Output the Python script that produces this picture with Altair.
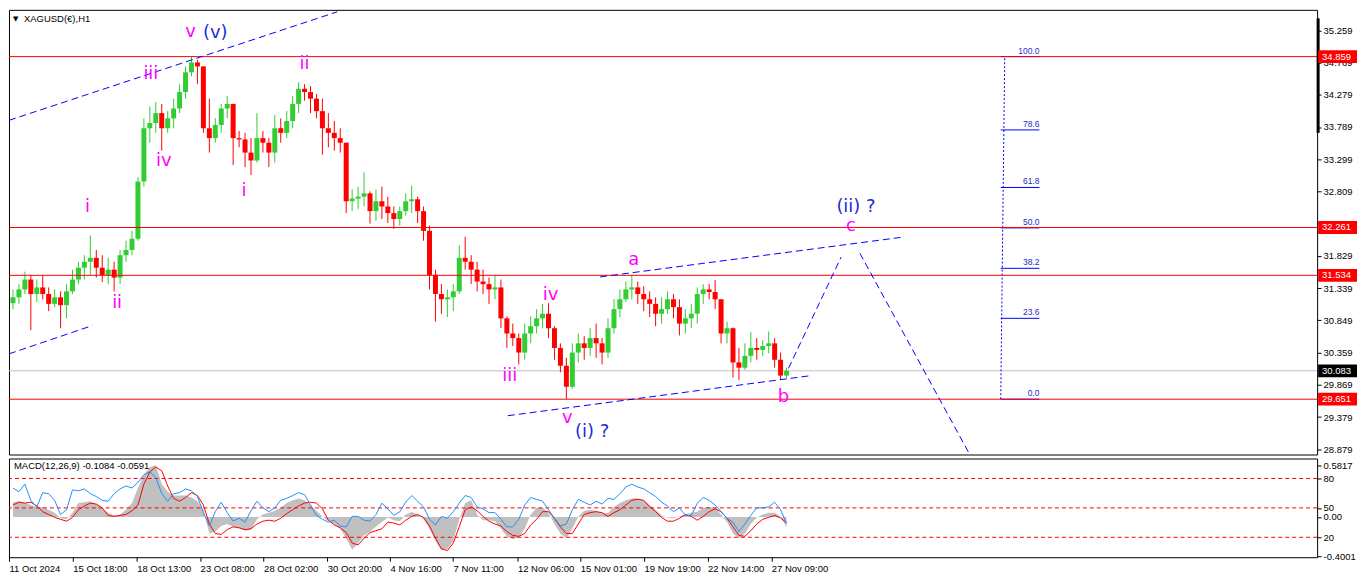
import json
import altair as alt
import pandas as pd

# ---------------- values ----------------
# Candles (each drawn candle groups several H1 bars), XAGUSD price
OPEN0 = 31.11
HIGH = [
    31.32, 31.40, 31.59, 31.54, 31.47, 31.53, 31.35, 31.32, 31.29, 31.40,
    31.62, 31.74, 31.84, 32.14, 31.92, 31.84, 31.80, 31.74, 31.92, 32.06,
    32.21, 33.03, 33.92, 34.10, 34.17, 34.14, 34.03, 34.22, 34.44, 34.71,
    34.859, 34.81, 34.71, 34.22, 33.92, 34.14, 34.26, 34.14, 33.73, 33.70,
    33.62, 34.00, 33.73, 33.62, 33.97, 33.92, 34.03, 34.26, 34.47, 34.44,
    34.41, 34.29, 34.22, 34.00, 33.88, 33.77, 33.55, 32.84, 32.88, 33.10,
    32.81, 32.84, 32.88, 32.73, 32.58, 32.58, 32.78, 32.90, 32.73, 32.58,
    32.29, 31.62, 31.40, 31.32, 31.40, 31.99, 32.12, 31.84, 31.74, 31.62,
    31.50, 31.53, 31.47, 30.91, 30.80, 30.65, 30.80, 30.91, 31.02, 31.10,
    31.11, 30.76, 30.50, 30.28, 30.50, 30.65, 30.61, 30.73, 30.80, 30.58,
    30.88, 31.17, 31.32, 31.44, 31.53, 31.44, 31.37, 31.29, 31.20, 31.20,
    31.29, 31.25, 31.17, 31.02, 31.10, 31.35, 31.40, 31.40, 31.46, 31.17,
    30.83, 30.74, 30.43, 30.50, 30.67, 30.58, 30.55, 30.68, 30.58, 30.36,
    30.13,
]
LOW = [
    31.02, 31.10, 31.25, 30.70, 31.13, 31.17, 30.99, 31.05, 30.73, 30.88,
    31.25, 31.40, 31.47, 31.54, 31.50, 31.43, 31.40, 31.29, 31.40, 31.74,
    31.84, 32.06, 32.88, 33.55, 33.70, 33.43, 33.70, 33.77, 34.00, 34.22,
    34.56, 34.44, 33.70, 33.40, 33.55, 33.70, 33.92, 33.21, 33.48, 33.18,
    33.06, 33.25, 33.40, 33.18, 33.25, 33.55, 33.62, 33.77, 34.00, 34.19,
    34.00, 33.92, 33.37, 33.48, 33.43, 33.40, 32.48, 32.51, 32.54, 32.58,
    32.32, 32.36, 32.39, 32.33, 32.24, 32.29, 32.44, 32.48, 32.33, 32.06,
    31.32, 30.83, 30.95, 30.90, 30.99, 31.25, 31.62, 31.40, 31.29, 31.25,
    31.10, 31.17, 30.73, 30.43, 30.46, 30.18, 30.25, 30.50, 30.65, 30.73,
    30.58, 30.25, 30.06, 29.651, 29.81, 30.21, 30.25, 30.31, 30.28, 30.18,
    30.28, 30.65, 30.90, 31.13, 31.17, 31.10, 30.99, 30.90, 30.76, 30.80,
    30.95, 30.88, 30.62, 30.65, 30.73, 30.80, 31.10, 31.17, 31.02, 30.50,
    30.50, 29.98, 29.94, 30.10, 30.21, 30.25, 30.31, 30.35, 30.13, 29.95,
    29.97,
]
CLOSE = [
    31.20, 31.32, 31.47, 31.25, 31.35, 31.25, 31.10, 31.20, 31.08, 31.29,
    31.47, 31.65, 31.74, 31.80, 31.65, 31.54, 31.62, 31.50, 31.84, 31.92,
    32.09, 32.96, 33.77, 33.85, 34.00, 33.77, 33.92, 34.07, 34.32, 34.62,
    34.77, 34.71, 33.77, 33.62, 33.82, 34.07, 34.14, 33.62, 33.60, 33.40,
    33.28, 33.62, 33.55, 33.40, 33.77, 33.70, 33.88, 34.14, 34.37, 34.32,
    34.22, 34.03, 33.77, 33.70, 33.62, 33.55, 32.66, 32.70, 32.73, 32.78,
    32.51, 32.66, 32.58, 32.48, 32.39, 32.51, 32.66, 32.69, 32.51, 32.21,
    31.54, 31.25, 31.17, 31.20, 31.29, 31.80, 31.74, 31.62, 31.44, 31.40,
    31.32, 31.35, 30.88, 30.65, 30.58, 30.36, 30.65, 30.76, 30.88, 30.95,
    30.73, 30.43, 30.16, 29.84, 30.36, 30.50, 30.43, 30.58, 30.50, 30.36,
    30.73, 31.02, 31.17, 31.32, 31.35, 31.25, 31.17, 31.10, 30.95, 31.02,
    31.17, 31.05, 30.80, 30.88, 30.95, 31.25, 31.32, 31.28, 31.17, 30.65,
    30.73, 30.21, 30.13, 30.31, 30.43, 30.40, 30.46, 30.50, 30.25, 30.01,
    30.083,
]

# Lower window: MACD histogram + signal (MACD units) and a 0-100 oscillator
HIST = [
    0.147, 0.157, 0.138, 0.119, 0.100, 0.100, 0.072, 0.043, -0.013, -0.023,
    0.043, 0.138, 0.147, 0.157, 0.128, 0.081, 0.043, 0.015, 0.025, 0.072,
    0.138, 0.289, 0.421, 0.497, 0.515, 0.327, 0.251, 0.213, 0.213, 0.213,
    0.194, 0.157, 0.072, -0.164, -0.145, -0.089, -0.070, -0.098, -0.108, -0.136,
    -0.126, -0.023, 0.025, 0.043, 0.062, 0.091, 0.138, 0.166, 0.185, 0.166,
    0.119, 0.062, 0.006, -0.042, -0.070, -0.117, -0.211, -0.325, -0.259, -0.183,
    -0.145, -0.098, -0.051, -0.004, -0.032, -0.042, 0.025, 0.053, 0.025, -0.023,
    -0.117, -0.240, -0.334, -0.315, -0.240, -0.023, 0.138, 0.166, 0.025, -0.032,
    -0.032, -0.042, -0.117, -0.193, -0.221, -0.202, -0.117, 0.025, 0.091, 0.091,
    0.043, -0.070, -0.164, -0.211, -0.117, 0.006, 0.062, 0.072, 0.062, 0.034,
    0.043, 0.100, 0.138, 0.166, 0.185, 0.185, 0.166, 0.119, 0.072, 0.015,
    -0.004, -0.013, 0.006, 0.025, 0.043, 0.053, 0.091, 0.100, 0.091, 0.025,
    -0.051, -0.164, -0.211, -0.164, -0.070, -0.004, 0.025, 0.043, 0.043, 0.006,
    -0.108,
]
SIGNAL = [
    0.119, 0.147, 0.138, 0.147, 0.110, 0.053, 0.025, -0.004, -0.023, -0.042,
    -0.004, 0.072, 0.110, 0.138, 0.128, 0.091, 0.015, 0.006, 0.015, 0.025,
    0.062, 0.119, 0.327, 0.449, 0.497, 0.459, 0.308, 0.185, 0.157, 0.194,
    0.242, 0.213, 0.119, -0.070, -0.164, -0.174, -0.126, -0.098, -0.108, -0.126,
    -0.117, -0.070, -0.042, -0.032, -0.042, -0.013, 0.034, 0.072, 0.110, 0.138,
    0.147, 0.138, 0.081, -0.032, -0.079, -0.108, -0.155, -0.259, -0.278, -0.211,
    -0.155, -0.136, -0.117, -0.051, -0.060, -0.079, -0.032, 0.006, 0.025, -0.004,
    -0.089, -0.211, -0.315, -0.334, -0.259, -0.098, 0.072, 0.100, 0.062, 0.006,
    -0.042, -0.070, -0.089, -0.145, -0.183, -0.193, -0.164, -0.079, -0.023, 0.053,
    0.053, -0.013, -0.098, -0.164, -0.164, -0.070, 0.025, 0.043, 0.053, 0.043,
    0.006, 0.043, 0.072, 0.119, 0.166, 0.176, 0.166, 0.100, 0.053, -0.004,
    -0.042, -0.042, -0.013, 0.025, 0.006, -0.032, 0.006, 0.053, 0.081, 0.053,
    -0.013, -0.098, -0.183, -0.193, -0.136, -0.070, -0.023, -0.004, 0.015, -0.010,
    -0.059,
]
OSC = [
    70.3, 66.5, 74.2, 57.7, 51.0, 65.5, 64.5, 57.7, 43.2, 48.1,
    68.4, 67.4, 69.4, 64.5, 61.6, 57.7, 56.8, 64.5, 69.4, 72.3,
    70.3, 76.1, 83.9, 86.8, 81.0, 64.5, 56.8, 64.5, 65.5, 69.4,
    67.4, 61.6, 45.2, 31.6, 46.1, 55.8, 45.2, 36.5, 39.4, 35.5,
    47.1, 56.8, 50.0, 46.1, 50.0, 57.7, 59.7, 62.6, 65.5, 63.5,
    52.9, 42.3, 38.4, 35.5, 37.4, 31.6, 30.6, 41.3, 41.3, 37.4,
    36.5, 43.2, 54.8, 49.0, 42.3, 46.1, 55.8, 62.6, 56.8, 51.0,
    38.4, 32.6, 41.3, 39.4, 46.1, 54.8, 62.6, 60.6, 51.0, 49.0,
    45.2, 45.2, 38.4, 30.6, 30.6, 38.4, 52.9, 60.6, 58.7, 56.8,
    48.1, 39.4, 31.6, 33.6, 48.1, 58.7, 55.8, 52.9, 56.8, 53.9,
    59.7, 58.7, 64.5, 71.3, 74.2, 71.3, 69.4, 65.5, 61.6, 55.8,
    51.9, 46.1, 50.0, 42.3, 42.3, 54.8, 60.6, 57.7, 52.9, 46.1,
    39.4, 35.5, 25.8, 33.6, 42.3, 50.0, 50.0, 51.0, 55.8, 48.1,
    34.5,
]
OSC_LEVELS = [80, 50, 20]

PRICE_TICKS = [35.259, 34.769, 34.279, 33.789, 33.299, 32.809, 32.319,
               31.829, 31.339, 30.849, 30.359, 29.869, 29.379, 28.879]
RED_LEVELS = [34.859, 32.261, 31.534, 29.651]
LAST_PRICE = 30.083
SCALE_BAR = [35.44, 33.70]

DATE_LABELS = ['11 Oct 2024', '15 Oct 18:00', '18 Oct 13:00', '23 Oct 08:00',
               '28 Oct 02:00', '30 Oct 20:00', '4 Nov 16:00', '7 Nov 11:00',
               '12 Nov 06:00', '15 Nov 01:00', '19 Nov 19:00', '22 Nov 14:00',
               '27 Nov 09:00']
DATE_POS = [-0.67, 10.05, 20.78, 31.45, 42.12, 52.83, 63.38, 73.95,
            84.78, 95.33, 106.05, 116.72, 127.45]

# dashed blue trend / projection lines (segment id, bar position, price)
TREND_SEG = [0, 0, 1, 1, 2, 2, 3, 3, 4, 4, 5, 5]
TREND_I = [-0.67, 54.5, -0.67, 13.33, 98.67, 149.17, 83.17, 134.17,
           130.33, 139.17, 142.33, 160.67]
TREND_P = [33.89, 35.54, 30.34, 30.77, 31.51, 32.11, 29.40, 30.01,
           30.12, 31.81, 31.87, 28.83]

# Fibonacci retracement
FIB_LOW, FIB_HIGH = 29.651, 34.859
FIB_LEVELS = [0.0, 23.6, 38.2, 50.0, 61.8, 78.6, 100.0]
FIB_X = [166.0, 172.5]
FIB_STEM_I = [166.67, 166.0]

# Elliott wave labels
LABEL_TEXT = ['v', '(v)', 'iii', 'iv', 'i', 'ii', 'i', 'ii', 'iv', 'iii',
              'v', '(i) ?', 'a', 'b', 'c', '(ii) ?']
LABEL_I = [29.83, 34.0, 23.17, 25.33, 12.5, 17.5, 38.83, 49.0, 90.33, 83.5,
           93.17, 97.33, 104.33, 129.5, 140.83, 141.67]
LABEL_P = [35.24, 35.21, 34.60, 33.27, 32.58, 31.11, 32.82, 34.74, 31.23,
           30.00, 29.36, 29.15, 31.77, 29.69, 32.29, 32.57]
LABEL_DEG = ['minor', 'major', 'minor', 'minor', 'minor', 'minor', 'minor',
             'minor', 'minor', 'minor', 'minor', 'major', 'minor', 'minor',
             'minor', 'major']

# ---------------- chart ----------------
W, HP, HM = 1312, 446, 99
FONT = 'Liberation Sans'
xs = alt.Scale(domain=[-0.67, 219.17], nice=False, zero=False)
ys = alt.Scale(domain=[28.81, 35.57], nice=False, zero=False)
ms = alt.Scale(domain=[-0.4001, 0.5817], nice=False, zero=False)

price_axis = alt.Axis(orient='right', values=PRICE_TICKS, format='.3f', title=None,
                      grid=False, tickSize=4, tickColor='black', domain=False,
                      labelFont=FONT, labelFontSize=9.5, labelColor='black',
                      labelPadding=2, labelOverlap=False)


def X(f):
    return alt.X(f, type='quantitative', scale=xs, axis=None)


def Y(f):
    return alt.Y(f, type='quantitative', scale=ys, axis=price_axis)


opens = [OPEN0] + CLOSE[:-1]
cdf = pd.DataFrame({'i': list(range(len(CLOSE))), 'o': opens, 'h': HIGH, 'l': LOW, 'c': CLOSE})
ccol = alt.condition('datum.c >= datum.o', alt.value('#32CD32'), alt.value('#FF0000'))
wicks = alt.Chart(cdf).mark_rule(strokeWidth=1).encode(x=X('i'), y=Y('l'), y2='h:Q', color=ccol)
bodies = alt.Chart(cdf).mark_rule(strokeWidth=5).encode(x=X('i'), y=Y('o'), y2='c:Q', color=ccol)

grey = alt.Chart(pd.DataFrame({'p': [LAST_PRICE]})).mark_rule(color='#C0C0C0').encode(y=Y('p'))
red = alt.Chart(pd.DataFrame({'p': RED_LEVELS})).mark_rule(color='#FF0000').encode(y=Y('p'))

tdf = pd.DataFrame({'seg': TREND_SEG, 'i': TREND_I, 'p': TREND_P})
trend = alt.Chart(tdf).mark_line(color='#0000FF', strokeWidth=1, strokeDash=[7, 4], clip=True).encode(
    x=X('i'), y=Y('p'), detail='seg:N')

fib_base = alt.Chart(pd.DataFrame({'lvl': FIB_LEVELS})).transform_calculate(
    p=f'{FIB_LOW} + datum.lvl / 100 * ({FIB_HIGH} - {FIB_LOW})',
    x0=f'{FIB_X[0]}', x1=f'{FIB_X[1]}')
fib_seg = fib_base.mark_rule(color='#0000FF').encode(x=X('x0'), x2='x1:Q', y=Y('p'))
fib_txt = fib_base.mark_text(align='right', baseline='bottom', dy=-1, font=FONT, fontSize=8.5,
                             color='#2a2ac8').encode(x=X('x1'), y=Y('p'),
                                                     text=alt.Text('lvl:Q', format='.1f'))
fib_stem = alt.Chart(pd.DataFrame({'i': FIB_STEM_I, 'p': [FIB_HIGH, FIB_LOW]})).mark_line(
    color='#0000FF', strokeWidth=1, strokeDash=[2, 2]).encode(x=X('i'), y=Y('p'))

wdf = pd.DataFrame({'t': LABEL_TEXT, 'i': LABEL_I, 'p': LABEL_P, 'deg': LABEL_DEG})
waves = alt.Chart(wdf).mark_text(font='DejaVu Sans', fontSize=18).encode(
    x=X('i'), y=Y('p'), text='t:N',
    color=alt.condition("datum.deg == 'minor'", alt.value('#FF00FF'), alt.value('#1f2bd8')))

bdf = pd.DataFrame({'p': RED_LEVELS + [LAST_PRICE], 'kind': ['level'] * len(RED_LEVELS) + ['last']})
boxes = alt.Chart(bdf).transform_calculate(lo='datum.p - 0.097', hi='datum.p + 0.097').mark_rect().encode(
    x=alt.value(W + 1), x2=alt.value(W + 40), y=Y('lo'), y2='hi:Q',
    color=alt.condition("datum.kind == 'last'", alt.value('#000000'), alt.value('#FF0000')))
box_txt = alt.Chart(bdf).mark_text(align='left', font=FONT, fontSize=9.5, color='white').encode(
    x=alt.value(W + 5), y=Y('p'), text=alt.Text('p:Q', format='.3f'))
scale_bar = alt.Chart(pd.DataFrame({'p0': [SCALE_BAR[0]], 'p1': [SCALE_BAR[1]]})).mark_rule(
    color='black', strokeWidth=3).encode(x=alt.value(W + 1), y=Y('p0'), y2='p1:Q')

title_df = pd.DataFrame({'t': ['XAGUSD(€),H1'], 'm': ['▼']})
title_tri = alt.Chart(title_df).mark_text(align='left', font='DejaVu Sans', fontSize=7, color='black').encode(
    x=alt.value(4), y=alt.value(9), text='m:N')
title_txt = alt.Chart(title_df).mark_text(align='left', font=FONT, fontSize=9.5, color='black').encode(
    x=alt.value(15), y=alt.value(9), text='t:N')

top = alt.layer(grey, fib_seg, fib_stem, fib_txt, wicks, bodies, red, trend, waves,
                scale_bar, boxes, box_txt, title_tri, title_txt).properties(width=W, height=HP)

# ----- lower MACD window -----
OSC_TO_MACD = '-0.202 + ({v} - 20) * 0.00975'
lvl_pos = [-0.202 + (v - 20) * 0.00975 for v in OSC_LEVELS]
macd_axis = alt.Axis(
    orient='right', values=[0.512, lvl_pos[0], lvl_pos[1], 0.0, lvl_pos[2], -0.395], title=None,
    grid=False, tickSize=4, tickColor='black', domain=False, labelFont=FONT, labelFontSize=9.5,
    labelColor='black', labelPadding=2, labelOverlap=False,
    labelExpr=("datum.value > 0.45 ? '0.5817' : datum.value > 0.3 ? '80' : datum.value > 0.05 ? '50'"
               " : datum.value > -0.05 ? '0.00' : datum.value > -0.3 ? '20' : '-0.4001'"))
x_axis = alt.Axis(values=DATE_POS, title=None, grid=False, tickSize=4, tickColor='black', domain=False,
                  labelFont=FONT, labelFontSize=9.5, labelColor='black', labelAlign='left',
                  labelPadding=2, labelOverlap=False, labelFlush=False,
                  labelExpr=json.dumps(DATE_LABELS) + '[round((datum.value + 0.67) / 10.68)]')
XB = alt.X('i:Q', scale=xs, axis=x_axis)

mdf = pd.DataFrame({'i': list(range(len(HIST))), 'hist': HIST, 'sig': SIGNAL, 'osc': OSC})
hist = alt.Chart(mdf).mark_area(color='#C0C0C0', opacity=1).encode(
    x=XB, y=alt.Y('hist:Q', scale=ms, axis=macd_axis), y2=alt.datum(0))
sig = alt.Chart(mdf).mark_line(color='#FF0000', strokeWidth=1).encode(
    x=XB, y=alt.Y('sig:Q', scale=ms, axis=macd_axis))
lv = alt.Chart(pd.DataFrame({'lvl': OSC_LEVELS})).transform_calculate(
    m=OSC_TO_MACD.format(v='datum.lvl')).mark_rule(color='#FF0000', strokeDash=[4, 3]).encode(
    y=alt.Y('m:Q', scale=ms, axis=macd_axis))
osc = alt.Chart(mdf).transform_calculate(m=OSC_TO_MACD.format(v='datum.osc')).mark_line(
    color='#1E90FF', strokeWidth=1).encode(x=XB, y=alt.Y('m:Q', scale=ms, axis=macd_axis))
mtitle = alt.Chart(pd.DataFrame({'t': ['MACD(12,26,9) -0.1084 -0.0591']})).mark_text(
    align='left', font=FONT, fontSize=9.5, color='black').encode(x=alt.value(5), y=alt.value(8), text='t:N')

bottom = alt.layer(hist, sig, lv, osc, mtitle).properties(width=W, height=HM)

chart = alt.vconcat(top, bottom, spacing=2).properties(padding=0, background='white').configure_view(
    stroke='black', strokeWidth=1)

chart.save("out.html", embed_options={"renderer": "svg", "actions": False})
